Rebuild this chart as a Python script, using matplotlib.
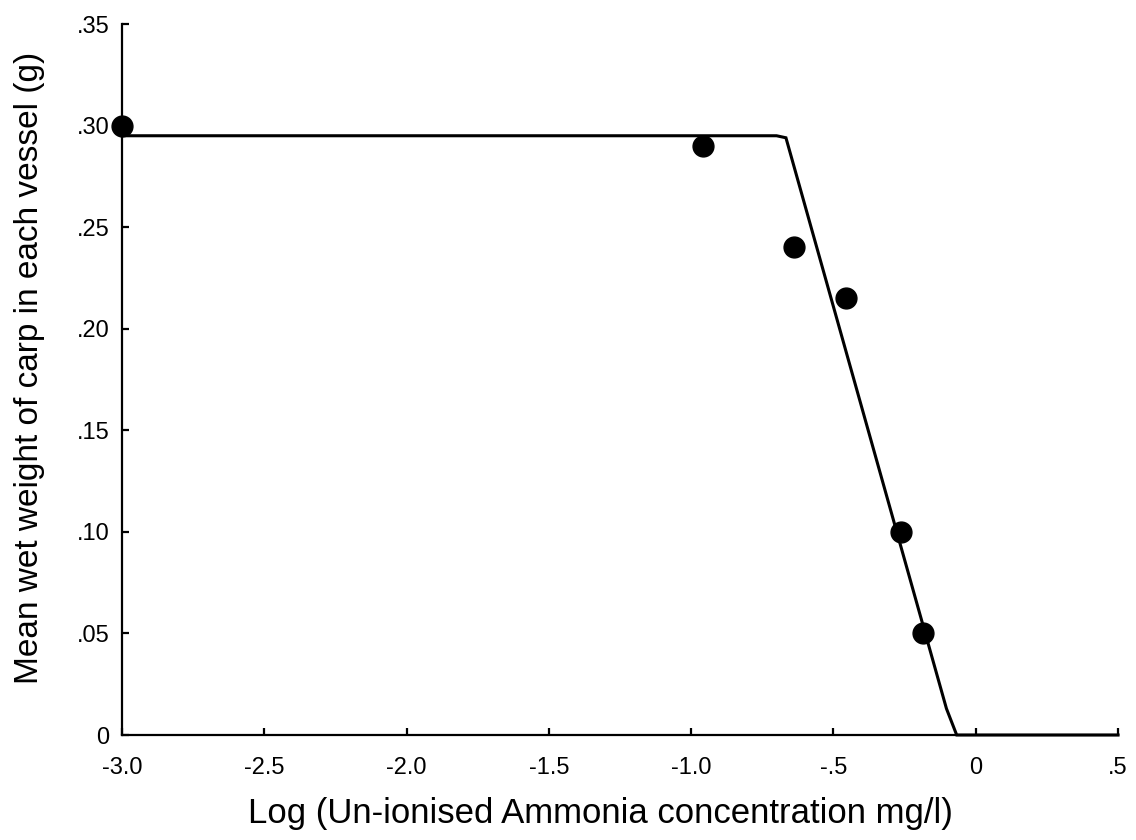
import matplotlib
matplotlib.use('Agg')
import matplotlib.pyplot as plt
from matplotlib.ticker import FixedLocator, FixedFormatter

plt.rcParams['font.family'] = ['Liberation Sans', 'DejaVu Sans']

# 观测数据
log_nh3 = [-3.0, -0.96, -0.64, -0.457, -0.262, -0.184]
mean_weight = [0.300, 0.290, 0.240, 0.215, 0.100, 0.050]

# 拟合折线
fit_x = [-3.0, -0.70, -0.667, -0.103, -0.067, 0.5]
fit_y = [0.295, 0.295, 0.294, 0.013, 0.0, 0.0]

x_ticks = [-3.0, -2.5, -2.0, -1.5, -1.0, -0.5, 0.0, 0.5]
x_labels = ['-3.0', '-2.5', '-2.0', '-1.5', '-1.0', '-.5', '0', '.5']
y_ticks = [0, 0.05, 0.10, 0.15, 0.20, 0.25, 0.30, 0.35]
y_labels = ['0', '.05', '.10', '.15', '.20', '.25', '.30', '.35']

fig = plt.figure(figsize=(11.36, 8.4), dpi=100)
ax = fig.add_axes([0.1074, 0.125, 0.8768, 0.8464])

ax.plot(fit_x, fit_y, color='black', lw=2.2, solid_joinstyle='miter', clip_on=False, zorder=2)
ax.plot(log_nh3, mean_weight, 'o', color='black', ms=15, clip_on=False, zorder=3)

ax.set_xlim(-3.0, 0.5)
ax.set_ylim(0, 0.35)
for side in ['top', 'right']:
    ax.spines[side].set_visible(False)
for side in ['left', 'bottom']:
    ax.spines[side].set_linewidth(1.6)

ax.xaxis.set_major_locator(FixedLocator(x_ticks))
ax.xaxis.set_major_formatter(FixedFormatter(x_labels))
ax.yaxis.set_major_locator(FixedLocator(y_ticks))
ax.yaxis.set_major_formatter(FixedFormatter(y_labels))
ax.tick_params(direction='in', length=5, width=1.6, labelsize=17)
ax.tick_params(axis='x', pad=16)
ax.tick_params(axis='y', pad=9)

ax.set_xlabel('Log (Un-ionised Ammonia concentration mg/l)', fontsize=25)
ax.set_ylabel('Mean wet weight of carp in each vessel (g)', fontsize=24)
ax.xaxis.set_label_coords(0.48, -0.087)
ax.yaxis.set_label_coords(-0.077, 0.517)

plt.savefig('out.png', dpi=100)
